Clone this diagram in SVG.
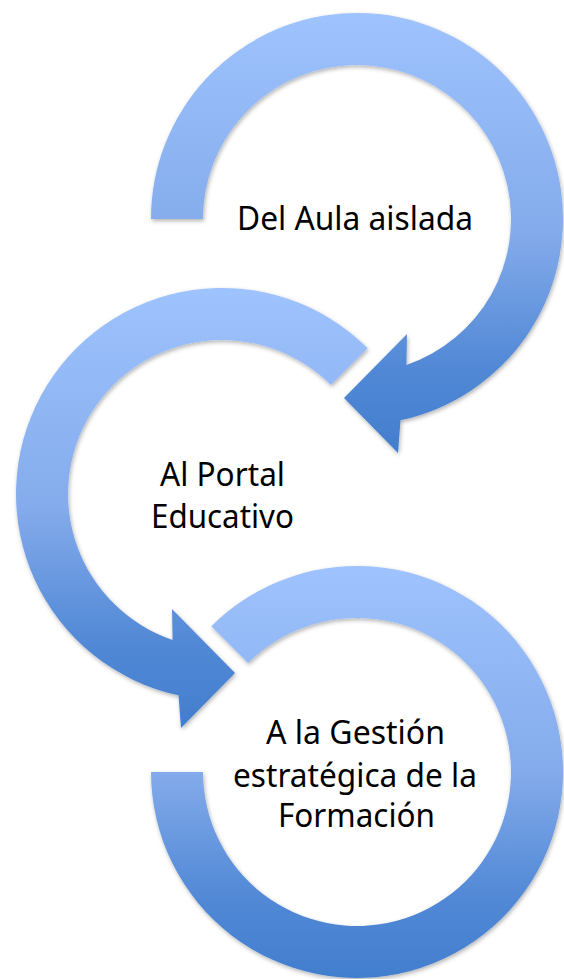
<svg xmlns="http://www.w3.org/2000/svg" width="564" height="979" viewBox="0 0 564 979">
<style>
.arc{fill:url(#g);filter:url(#sh)}
.lbl{font-family:"Noto Sans","Open Sans","Liberation Sans",sans-serif;font-size:32px;fill:#000;text-anchor:middle}
</style>
<defs>
<linearGradient id="g" x1="0" y1="0" x2="0" y2="1">
<stop offset="0" stop-color="#9EC3FE"/>
<stop offset="0.5" stop-color="#84ABEB"/>
<stop offset="0.8" stop-color="#5289D6"/>
<stop offset="1" stop-color="#427ECE"/>
</linearGradient>
<filter id="sh" x="-10%" y="-10%" width="120%" height="120%">
<feDropShadow dx="1" dy="2" stdDeviation="2" flood-color="#000" flood-opacity="0.3"/>
</filter>
</defs>
<g id="connectors"></g>
<g id="node1">
<path class="arc" d="M151,219 A206,206 0 1 1 400.5,420.3 L398,453 L344,398 L407,334 L406.4,364.9 A154,154 0 1 0 203,219 Z"/>
<text class="lbl" x="355" y="230" textLength="236" lengthAdjust="spacingAndGlyphs">Del Aula aislada</text>
</g>
<g id="node2">
<path class="arc" d="M367.7,348.3 A206,206 0 1 0 178.5,695.3 L181,728 L235,673 L172,609 L172.6,639.9 A154,154 0 1 1 330.9,385.1 Z"/>
<text class="lbl" x="222.5" y="486" textLength="125" lengthAdjust="spacingAndGlyphs">Al Portal</text>
<text class="lbl" x="222.5" y="528" textLength="143" lengthAdjust="spacingAndGlyphs">Educativo</text>
</g>
<g id="node3">
<path class="arc" d="M211.3,626.3 A206,206 0 1 1 151,772 L203,772 A154,154 0 1 0 248.1,663.1 Z"/>
<text class="lbl" x="355.5" y="744" textLength="179" lengthAdjust="spacingAndGlyphs">A la Gestión</text>
<text class="lbl" x="355" y="787" textLength="244" lengthAdjust="spacingAndGlyphs">estratégica de la</text>
<text class="lbl" x="356.5" y="827" textLength="157" lengthAdjust="spacingAndGlyphs">Formación</text>
</g>
</svg>
